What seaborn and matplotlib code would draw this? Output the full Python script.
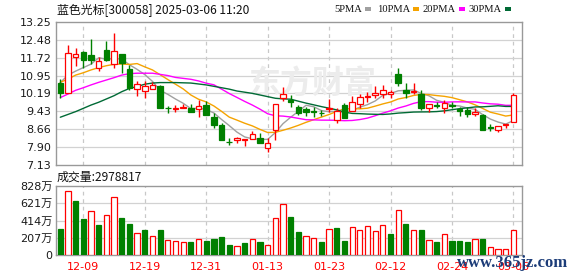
import numpy as np
import pandas as pd
import matplotlib
matplotlib.use("Agg")
import matplotlib.pyplot as plt
import seaborn as sns

# ---------------- data ----------------
dates = ["12-04", "12-05", "12-06", "12-09", "12-10", "12-11", "12-12", "12-13", "12-16", "12-17",
         "12-18", "12-19", "12-20", "12-23", "12-24", "12-25", "12-26", "12-27", "12-30", "12-31",
         "01-02", "01-03", "01-06", "01-07", "01-08", "01-09", "01-10", "01-13", "01-14", "01-15",
         "01-16", "01-17", "01-20", "01-21", "01-22", "01-23", "01-24", "01-27", "02-05", "02-06",
         "02-07", "02-10", "02-11", "02-12", "02-13", "02-14", "02-17", "02-18", "02-19", "02-20",
         "02-21", "02-24", "02-25", "02-26", "02-27", "02-28", "03-03", "03-04", "03-05", "03-06"]

opens = [10.63, 10.22, 11.73, 11.94, 11.83, 11.26, 12.04, 11.43, 11.86, 11.23,
         10.38, 10.29, 10.38, 10.50, 9.58, 9.52, 9.55, 9.55, 9.51, 9.69,
         9.20, 8.84, 8.13, 8.20, 8.20, 8.24, 8.30, 7.87, 8.63, 10.01,
         9.91, 9.61, 9.52, 9.44, 9.37, 9.51, 9.05, 9.69, 9.44, 9.72,
         10.05, 10.12, 10.15, 10.16, 11.00, 10.33, 10.23, 10.15, 9.55, 9.68,
         9.58, 9.69, 9.52, 9.48, 9.30, 9.27, 8.74, 8.61, 8.84, 8.98]
highs = [10.80, 12.26, 12.11, 12.01, 12.51, 11.76, 12.43, 12.77, 11.88, 11.40,
         10.72, 10.72, 10.66, 10.55, 9.65, 9.69, 9.74, 9.74, 9.91, 9.86,
         9.34, 8.91, 8.27, 8.34, 8.24, 8.58, 8.48, 8.27, 9.72, 10.48,
         10.12, 9.69, 9.62, 9.62, 9.48, 9.95, 9.55, 9.76, 10.09, 10.15,
         10.26, 10.52, 10.55, 10.33, 11.29, 10.62, 10.62, 10.33, 9.74, 9.81,
         9.91, 9.81, 9.62, 9.62, 9.55, 9.30, 8.87, 8.80, 8.87, 10.19]
lows = [9.98, 10.20, 11.37, 11.26, 11.43, 11.15, 11.57, 11.26, 11.05, 10.33,
        10.09, 9.98, 10.38, 9.55, 9.34, 9.38, 9.55, 9.41, 9.20, 9.27,
        8.70, 8.20, 7.99, 8.06, 7.96, 8.24, 8.06, 7.67, 8.20, 9.86,
        9.62, 9.27, 9.24, 9.20, 9.24, 9.38, 8.91, 9.12, 9.44, 9.58,
        9.81, 10.01, 9.98, 10.01, 10.52, 10.01, 10.15, 9.48, 9.38, 9.55,
        9.34, 9.58, 9.24, 9.20, 9.24, 8.63, 8.58, 8.55, 8.70, 8.98]
closes = [10.22, 11.90, 11.86, 11.60, 11.61, 11.57, 11.61, 12.00, 11.47, 10.41,
          10.58, 10.50, 10.55, 9.55, 9.56, 9.58, 9.59, 9.41, 9.65, 9.27,
          8.84, 8.20, 8.10, 8.27, 8.24, 8.44, 8.08, 8.09, 9.72, 10.15,
          9.81, 9.34, 9.38, 9.41, 9.34, 9.55, 9.44, 9.12, 9.84, 10.05,
          10.09, 10.22, 10.33, 10.23, 10.62, 10.19, 10.31, 9.58, 9.74, 9.65,
          9.76, 9.66, 9.44, 9.30, 9.38, 8.63, 8.71, 8.80, 8.87, 10.12]
volumes = [312, 768, 648, 432, 528, 360, 480, 696, 444, 372,
           264, 300, 228, 300, 180, 168, 156, 156, 192, 168,
           192, 216, 120, 108, 144, 192, 156, 120, 444, 612,
           456, 276, 228, 204, 156, 312, 324, 168, 336, 300,
           348, 288, 360, 252, 540, 372, 300, 300, 180, 156,
           252, 168, 168, 156, 192, 192, 96, 72, 72, 297.8817]  # 万

# moving-average values before the averaging window is filled
ma5_head = [10.65, 10.97, 11.14, 11.29]
ma10_head = [10.66, 10.80, 10.97, 11.07, 11.19, 11.29, 11.37, 11.43, 11.44]
ma20_head = [10.01, 10.16, 10.32, 10.43, 10.55, 10.66, 10.76, 10.86, 10.97, 11.03,
             11.05, 11.05, 11.05, 11.00, 10.95, 10.87, 10.83, 10.79, 10.72]
ma30_head = [9.17, 9.29, 9.41, 9.55, 9.69, 9.81, 9.95, 10.09, 10.26, 10.40,
             10.48, 10.58, 10.63, 10.65, 10.65, 10.65, 10.64, 10.63, 10.59, 10.55,
             10.49, 10.43, 10.37, 10.29, 10.24, 10.19, 10.12, 10.05, 9.98]

price_ticks = [7.13, 7.90, 8.66, 9.43, 10.19, 10.95, 11.72, 12.48, 13.25]
price_tick_labels = ["7.13", "7.90", "8.66", "9.43", "10.19", "10.95", "11.72", "12.48", "13.25"]
vol_ticks = [0, 207, 414, 621, 828]
vol_tick_labels = ["0", "207万", "414万", "621万", "828万"]
date_ticks = ["12-09", "12-19", "12-31", "01-13", "01-23", "02-12", "02-24", "03-06"]

title = "蓝色光标[300058] 2025-03-06 11:20"
vol_title = "成交量:2978817"
ma_names = ["5PMA", "10PMA", "20PMA", "30PMA"]

# ---------------- style ----------------
sns.set_theme(style="white")
plt.rcParams["font.family"] = ["DejaVu Sans", "Noto Sans CJK SC"]

RED = "#ff0000"
GREEN = "#008000"
MA_COLORS = ["#a0a0a0", "#f5a300", "#ff00ff", "#006a35"]
GRID = "#d2d2d2"
SPINE = "#999999"

W, H = 578, 276
fig = plt.figure(figsize=(W / 100, H / 100), dpi=100)
fig.patch.set_facecolor("white")


def fx(px):
    return px / W


def fy(py):
    return 1 - py / H


left, right = 55.5, 522.0
ax = fig.add_axes([fx(left), fy(165), fx(right - left), fy(21.7) - fy(165)])
axv = fig.add_axes([fx(left), fy(255), fx(right - left), fy(186) - fy(255)])

n = len(dates)
x = np.arange(n)
o = np.array(opens)
h = np.array(highs)
l = np.array(lows)
c = np.array(closes)
v = np.array(volumes)

# moving averages
cs = pd.Series(c)
mas = []
for win, head in zip([5, 10, 20, 30], [ma5_head, ma10_head, ma20_head, ma30_head]):
    m = cs.rolling(win).mean().to_numpy()
    m[:len(head)] = head
    mas.append(m)

xlim = (-0.625, 60.12)
tick_idx = [dates.index(d) for d in date_ticks]

for a in (ax, axv):
    a.set_facecolor("white")
    a.set_xlim(*xlim)
    a.set_xticks(tick_idx)
    a.grid(False)
    for s in a.spines.values():
        s.set_color(SPINE)
        s.set_linewidth(1.0)
    for t in tick_idx:
        a.axvline(t, color="#c8c8c8", lw=0.9, ls=(0, (3, 3)), zorder=0.5)
    a.tick_params(axis="both", length=0)

# price panel
ax.set_ylim(price_ticks[0], price_ticks[-1])
ax.set_yticks(price_ticks)
ax.set_yticklabels(price_tick_labels)
for t in price_ticks[1:-1]:
    ax.axhline(t, color=GRID, lw=0.9, zorder=0.5)
ax.set_xticklabels([])
ax.tick_params(axis="y", labelsize=8, pad=3, labelcolor="#1a1a1a")

for m, col in zip(mas, MA_COLORS):
    sns.lineplot(x=x, y=m, ax=ax, color=col, lw=1.0, legend=False, zorder=2)

up = c >= o
wick_col = np.where(up, RED, GREEN)
ax.vlines(x, l, h, colors=wick_col, lw=1.0, zorder=3)
body_w = 0.72
bottoms = np.minimum(o, c)
heights = np.maximum(np.abs(c - o), 0.001)
ax.bar(x[up], heights[up], bottom=bottoms[up], width=body_w, facecolor="white",
       edgecolor=RED, linewidth=0.9, zorder=4)
ax.bar(x[~up], heights[~up], bottom=bottoms[~up], width=body_w, facecolor=GREEN,
       edgecolor=GREEN, linewidth=0.9, zorder=4)

# faint provider watermark
ax.text(0.55, 0.56, "东方财富", transform=ax.transAxes, ha="center", va="center",
        fontsize=23, color="#ececec", family=["Noto Sans CJK SC"], fontweight="bold", zorder=1)

# volume panel
prev = np.concatenate([[o[0]], c[:-1]])
vup = c >= prev
axv.set_ylim(0, vol_ticks[-1])
axv.set_yticks(vol_ticks)
axv.set_yticklabels(vol_tick_labels)
for t in vol_ticks[1:-1]:
    axv.axhline(t, color=GRID, lw=0.9, zorder=0.5)
axv.tick_params(axis="y", labelsize=8, pad=2, labelcolor="#1a1a1a")
axv.set_xticklabels(date_ticks)
axv.tick_params(axis="x", labelsize=8, pad=5, labelcolor=RED)
vol_w = 0.68
axv.bar(x[vup], v[vup], width=vol_w, facecolor="white", edgecolor=RED, linewidth=0.9, zorder=3)
axv.bar(x[~vup], v[~vup], width=vol_w, facecolor=GREEN, edgecolor=GREEN, linewidth=0.9, zorder=3)

# titles
fig.text(fx(57), fy(11), title, ha="left", va="center", fontsize=8.6, color="#111111",
         family=["Noto Sans CJK SC", "DejaVu Sans"])
fig.text(fx(57), fy(177), vol_title, ha="left", va="center", fontsize=8.6, color="#111111",
         family=["Noto Sans CJK SC", "DejaVu Sans"])

# legend
leg_text_right = [362, 410, 456, 502]
for name, col, xr in zip(ma_names, MA_COLORS, leg_text_right):
    fig.text(fx(xr), fy(9.5), name, ha="right", va="center", fontsize=7.6,
             color="#111111", family=["Liberation Serif"])
    fig.patches.append(matplotlib.patches.Rectangle((fx(xr + 3), fy(11)), fx(6), fy(7) - fy(11),
                                                    transform=fig.transFigure, facecolor=col,
                                                    edgecolor="none"))

# site watermark (drawn over the last date labels, as in the reference)
fig.text(fx(513), fy(263), "www.365jz.com", ha="center", va="center", fontsize=12,
         color="#1c3c78", family=["Liberation Serif"], fontweight="bold")

fig.savefig("out.png", dpi=100, facecolor="white")
